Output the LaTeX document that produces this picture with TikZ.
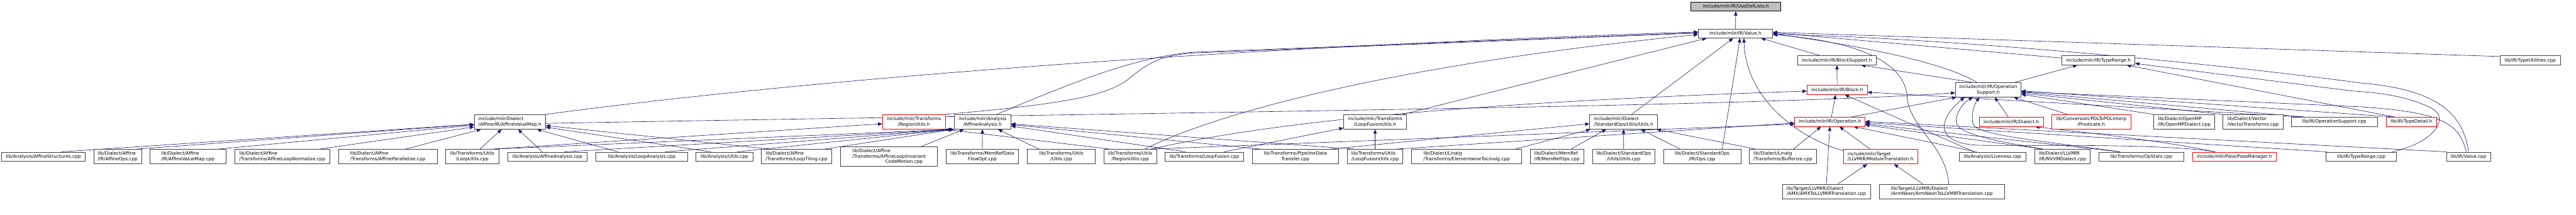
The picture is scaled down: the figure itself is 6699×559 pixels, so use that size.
\documentclass[tikz,border=0pt]{standalone}
\usepackage{fontspec}
\setmainfont{DejaVu Sans}
\usetikzlibrary{arrows.meta, backgrounds}
\definecolor{dxEdge}{HTML}{191970}
\definecolor{dxLine}{HTML}{404040}
\definecolor{dxCut}{HTML}{FF0000}
\definecolor{dxRoot}{HTML}{BFBFBF}
\tikzset{
  file/.style={
    rectangle, draw=dxLine, line width=1pt,
    fill=white, text=black,
    inner xsep=4pt, inner ysep=2pt,
    align=center,
    font=\fontsize{12}{14}\selectfont
  },
  one/.style={minimum height=24pt},
  two/.style={minimum height=38pt},
  lft/.style={align=left},
  cut/.style={draw=dxCut},
  rootfile/.style={file, one, fill=dxRoot, draw=black},
  inc/.style={
    -{Triangle[length=11pt, width=9pt]},
    dxEdge, line width=1pt
  }
}

\begin{document}
\begin{tikzpicture}[x=1pt, y=-1pt]
  \useasboundingbox (0,0) rectangle (6699,559);

  % headers at the top
  \node[rootfile, minimum width=234pt] (usedef) at (4514,17) {include/mlir/IR/UseDefLists.h};
  \node[file, one, minimum width=194pt] (value) at (4513,87) {include/mlir/IR/Value.h};
  \node[file, one, minimum width=204pt] (blksup) at (4777,157) {include/mlir/IR/BlockSupport.h};
  \node[file, one, minimum width=190pt] (tyrange) at (5457,157) {include/mlir/IR/TypeRange.h};
  \node[file, one, minimum width=156pt] (tyutil) at (6580,157) {lib/IR/TypeUtilities.cpp};
  \node[file, one, cut, minimum width=157pt] (block) at (4777.5,234) {include/mlir/IR/Block.h};
  \node[file, two, minimum width=171pt] (opsup) at (5170.5,233.5) {include/mlir/IR/Operation\\Support.h};

  % middle row
  \node[file, two, lft, minimum width=186pt] (avmh) at (1326,317) {include/mlir/Dialect\\/Affine/IR/AffineValueMap.h};
  \node[file, two, cut, minimum width=163pt] (regutilh) at (2376.5,317) {include/mlir/Transforms\\/RegionUtils.h};
  \node[file, two, minimum width=148pt] (aah) at (2555,317) {include/mlir/Analysis\\/AffineAnalysis.h};
  \node[file, two, minimum width=164pt] (lfuh) at (3576,317) {include/mlir/Transforms\\/LoopFusionUtils.h};
  \node[file, two, lft, minimum width=176pt] (stdutilh) at (4222,317) {include/mlir/Dialect\\/StandardOps/Utils/Utils.h};
  \node[file, one, cut, minimum width=183pt] (oph) at (4758.5,317) {include/mlir/IR/Operation.h};
  \node[file, one, cut, minimum width=167pt] (dialh) at (5230.5,317) {include/mlir/IR/Dialect.h};
  \node[file, two, cut, minimum width=205pt] (predh) at (5438.5,317) {lib/Conversion/PDLToPDLInterp\\/Predicate.h};
  \node[file, two, lft, minimum width=158pt] (ompcpp) at (5680,317) {lib/Dialect/OpenMP\\/IR/OpenMPDialect.cpp};
  \node[file, two, lft, minimum width=156pt] (vectcpp) at (5859,317) {lib/Dialect/Vector\\/VectorTransforms.cpp};
  \node[file, one, minimum width=223pt] (opsupcpp) at (6070.5,317) {lib/IR/OperationSupport.cpp};
  \node[file, one, cut, minimum width=132pt] (tydet) at (6271,317) {lib/IR/TypeDetail.h};

  % bottom row
  \node[file, one, minimum width=218pt] (astruct) at (113,407.5) {lib/Analysis/AffineStructures.cpp};
  \node[file, two, lft, minimum width=124pt] (aops) at (306,407.5) {lib/Dialect/Affine\\/IR/AffineOps.cpp};
  \node[file, two, lft, minimum width=197pt] (avmcpp) at (488.5,407.5) {lib/Dialect/Affine\\/IR/AffineValueMap.cpp};
  \node[file, two, lft, minimum width=248pt] (alnorm) at (734,407.5) {lib/Dialect/Affine\\/Transforms/AffineLoopNormalize.cpp};
  \node[file, two, lft, minimum width=257pt] (apar) at (1008.5,407.5) {lib/Dialect/Affine\\/Transforms/AffineParallelize.cpp};
  \node[file, two, minimum width=138pt] (lutils) at (1228,407.5) {lib/Transforms/Utils\\/LoopUtils.cpp};
  \node[file, one, minimum width=207pt] (aacpp) at (1423.5,407.5) {lib/Analysis/AffineAnalysis.cpp};
  \node[file, one, minimum width=238pt] (lacpp) at (1669,407.5) {lib/Analysis/LoopAnalysis.cpp};
  \node[file, one, minimum width=148pt] (autils) at (1884,407.5) {lib/Analysis/Utils.cpp};
  \node[file, two, lft, minimum width=183pt] (ltile) at (2071.5,407.5) {lib/Dialect/Affine\\/Transforms/LoopTiling.cpp};
  \node[file, lft, minimum width=252pt, minimum height=51pt] (alicm) at (2312,407.5) {lib/Dialect/Affine\\/Transforms/AffineLoopInvariant\\\hspace*{86pt}CodeMotion.cpp};
  \node[file, two, minimum width=189pt] (mrdfo) at (2554.5,407.5) {lib/Transforms/MemRefData\\FlowOpt.cpp};
  \node[file, two, minimum width=176pt] (tutils) at (2760,407.5) {lib/Transforms/Utils\\/Utils.cpp};
  \node[file, two, minimum width=138pt] (rucpp) at (2939,407.5) {lib/Transforms/Utils\\/RegionUtils.cpp};
  \node[file, one, minimum width=204pt] (lfus) at (3132,407.5) {lib/Transforms/LoopFusion.cpp};
  \node[file, two, minimum width=225pt] (pdt) at (3368.5,407.5) {lib/Transforms/PipelineData\\Transfer.cpp};
  \node[file, two, lft, minimum width=144pt] (lfucpp) at (3576,407.5) {lib/Transforms/Utils\\/LoopFusionUtils.cpp};
  \node[file, two, lft, minimum width=286pt] (elem) at (3814,407.5) {lib/Dialect/Linalg\\/Transforms/ElementwiseToLinalg.cpp};
  \node[file, two, lft, minimum width=138pt] (mrops) at (4049,407.5) {lib/Dialect/MemRef\\/IR/MemRefOps.cpp};
  \node[file, two, minimum width=163pt] (stdcpp) at (4222.5,407.5) {lib/Dialect/StandardOps\\/Utils/Utils.cpp};
  \node[file, two, minimum width=201pt] (opscpp) at (4426.5,407.5) {lib/Dialect/StandardOps\\/IR/Ops.cpp};
  \node[file, two, lft, minimum width=175pt] (bufz) at (4636.5,407.5) {lib/Dialect/Linalg\\/Transforms/Bufferize.cpp};
  \node[file, two, lft, cut, minimum width=193pt] (modtr) at (4890.5,407.5) {include/mlir/Target\\/LLVMIR/ModuleTranslation.h};
  \node[file, one, minimum width=173pt] (live) at (5181.5,407.5) {lib/Analysis/Liveness.cpp};
  \node[file, two, lft, minimum width=145pt] (nvvm) at (5363.5,407.5) {lib/Dialect/LLVMIR\\/IR/NVVMDialect.cpp};
  \node[file, one, minimum width=221pt] (opstat) at (5568.5,407.5) {lib/Transforms/OpStats.cpp};
  \node[file, one, cut, minimum width=217pt] (passmgr) at (5810.5,407.5) {include/mlir/Pass/PassManager.h};
  \node[file, one, minimum width=183pt] (trcpp) at (6140.5,407.5) {lib/IR/TypeRange.cpp};
  \node[file, one, minimum width=115pt] (valcpp) at (6419.5,407.5) {lib/IR/Value.cpp};
  \node[file, two, lft, minimum width=229pt] (amx) at (4749.5,498) {lib/Target/LLVMIR/Dialect\\/AMX/AMXToLLVMIRTranslation.cpp};
  \node[file, two, lft, minimum width=326pt] (neon) at (5050,498) {lib/Target/LLVMIR/Dialect\\/ArmNeon/ArmNeonToLLVMIRTranslation.cpp};

  \begin{scope}[on background layer]
    \fill[white] (0,0) rectangle (6699,559);

    % Value.h and the headers above it
    \draw[inc] (value) -- (usedef);
    \draw[inc] ([xshift=-44pt]blksup.north) -- ([xshift=67pt]value.south);
    \draw[inc] (block) -- (blksup);
    \draw[inc] ([xshift=-43pt]opsup.north) -- ([xshift=63pt]blksup.south);
    \draw[inc] ([xshift=70pt]opsup.north) -- ([xshift=-55pt]tyrange.south);
    \draw[inc] ([yshift=6pt]tyrange.west) -- ([yshift=2pt]value.east);
    \draw[inc] ([yshift=10pt]tyutil.west) -- ([yshift=3pt]value.east);
    \draw[inc] ([xshift=-30pt]opsup.north) .. controls (5060,165) and (4850,120) .. ([yshift=-1pt]value.east);
    \draw[inc] ([xshift=4pt]oph.north) -- ([xshift=-4pt]block.south);
    \draw[inc] ([xshift=55pt]oph.north) -- ([xshift=3pt]opsup.south west);

    % into OperationSupport.h
    \draw[inc] ([xshift=-8pt]dialh.north) -- ([xshift=17pt]opsup.south);
    \draw[inc] ([xshift=-62pt]predh.north) -- ([xshift=66pt]opsup.south);
    \draw[inc] (ompcpp.north west) -- ([yshift=-12pt]opsup.east);
    \draw[inc] (vectcpp.north west) -- ([yshift=-9pt]opsup.east);
    \draw[inc] ([xshift=-78pt]opsupcpp.north) -- ([yshift=-6pt]opsup.east);
    \draw[inc] ([xshift=-43pt]tydet.north) -- ([yshift=-3pt]opsup.east);
    \draw[inc] ([xshift=-78pt]opsupcpp.north) -- ([yshift=-6pt]block.east);
    \draw[inc] ([xshift=-43pt]tydet.north) -- ([xshift=73pt]tyrange.south);
    \draw[inc] ([yshift=-4pt]avmh.east) .. controls (3000,292) and (4500,280) .. ([yshift=-8pt]opsup.west);

    % the far right files
    \draw[inc] ([xshift=80pt]trcpp.north) .. controls (6330,372) and (6375,305) .. (6320,280)
      .. controls (6260,250) and (6180,240) .. (6120,237) -- ([yshift=-8pt]tyrange.east);
    \draw[inc] (valcpp.north) .. controls (6405,290) and (6330,232) .. (6140,216)
      .. controls (5800,170) and (5100,100) .. ([yshift=-2pt]value.east);
    \draw[inc] ([xshift=-6pt]valcpp.north) .. controls (6395,320) and (6350,292) .. (6140,278)
      -- ([yshift=-5pt]opsup.east);
    \draw[inc] ([xshift=-50pt]passmgr.north) .. controls (5620,372) and (5250,380) .. (5150,378)
      .. controls (5040,375) and (5030,320) .. ([xshift=-62pt]opsup.south);
    \draw[inc] ([xshift=-50pt]nvvm.north) .. controls (5200,368) and (5085,350) .. (5087,315)
      .. controls (5089,285) and (5110,265) .. ([xshift=-40pt]opsup.south);
    \draw[inc] ([xshift=-55pt]opstat.north) .. controls (5300,365) and (5135,352) .. (5130,320)
      .. controls (5127,290) and (5135,270) .. ([xshift=-23pt]opsup.south);
    \draw[inc] ([xshift=-50pt]passmgr.north) .. controls (5620,365) and (5420,345) .. ([xshift=62pt]dialh.south);

    % into Operation.h and Block.h
    \draw[inc] ([xshift=-27pt]modtr.north) -- ([xshift=25pt]oph.south);
    \draw[inc] (amx.north) -- (oph.south);
    \draw[inc] ([xshift=27pt]bufz.north) -- ([xshift=-23pt]oph.south);
    \draw[inc] ([xshift=30pt]amx.north) -- ([xshift=-35pt]modtr.south);
    \draw[inc] ([xshift=-50pt]neon.north) -- ([xshift=35pt]modtr.south);
    \draw[inc] ([yshift=-4pt]modtr.north west) .. controls (4680,360) and (4540,260) .. ([xshift=22pt]value.south);
    \draw[inc] ([xshift=18pt]neon.north) .. controls (5060,380) and (4975,340) .. (4960,260)
      .. controls (4960,150) and (4800,105) .. ([yshift=-3pt]value.east);
    \draw[inc] ([xshift=-48pt]live.north) -- ([xshift=20pt]block.south);
    \draw[inc] ([xshift=-41pt]live.north) -- ([xshift=62pt]oph.south);
    \draw[inc] ([xshift=-50pt]nvvm.north) -- ([yshift=-8pt]oph.east);
    \draw[inc] ([xshift=-55pt]opstat.north) -- ([yshift=-5pt]oph.east);
    \draw[inc] ([xshift=-90pt]trcpp.north) -- ([yshift=-2pt]oph.east);
    \draw[inc] (valcpp.north west) -- ([yshift=1pt]oph.east);

    % StandardOps/Utils/Utils.h
    \draw[inc] ([xshift=90pt]pdt.north) -- ([yshift=-5pt]stdutilh.west);
    \draw[inc] ([xshift=126pt]elem.north) -- ([xshift=-86pt]stdutilh.south);
    \draw[inc] ([xshift=36pt]mrops.north) -- ([xshift=-45pt]stdutilh.south);
    \draw[inc] (stdcpp.north) -- (stdutilh.south);
    \draw[inc] ([xshift=-57pt]opscpp.north) -- ([xshift=45pt]stdutilh.south);
    \draw[inc] ([xshift=-70pt]bufz.north) -- ([xshift=86pt]stdutilh.south);
    \draw[inc] ([xshift=21pt]stdutilh.north) -- ([xshift=-6pt]value.south);
    \draw[inc] ([xshift=52pt]opscpp.north) -- ([xshift=12pt]value.south);

    % LoopFusionUtils.h and RegionUtils
    \draw[inc] (lfucpp.north) -- (lfuh.south);
    \draw[inc] ([xshift=51pt]lfus.north) -- ([yshift=-16pt]lfuh.west);
    \draw[inc] ([xshift=72pt]lfuh.north) -- ([xshift=-75pt]value.south);
    \draw[inc] ([xshift=54pt]lfucpp.north) -- ([yshift=-3pt]oph.west);
    \draw[inc] ([xshift=53pt]rucpp.north) -- ([yshift=-6pt]oph.west);
    \draw[inc] ([xshift=53pt]rucpp.north) .. controls (3250,330) and (3700,270) .. ([yshift=-3pt]block.west);
    \draw[inc] ([xshift=38pt]rucpp.north) .. controls (3150,300) and (3600,170) .. ([yshift=-3pt]value.west);
    \draw[inc] ([xshift=-52pt]rucpp.north) -- (regutilh.south east);
    \draw[inc] (regutilh.north east) .. controls (2800,268) and (2880,245) .. (2933,207)
      .. controls (2990,160) and (3020,145) .. (3100,138) -- ([yshift=1pt]value.west);
    \draw[inc] ([xshift=37pt]aah.north) .. controls (2800,210) and (2950,150) .. (3100,136) -- ([yshift=2pt]value.west);
    \draw[inc] (avmh.north east) .. controls (2000,220) and (3000,130) .. ([yshift=4pt]value.west);

    % AffineAnalysis.h
    \foreach \c/\dx in {lutils/52, aacpp/44, lacpp/61, autils/33, ltile/72}
      \draw[inc] ([xshift=\dx pt]\c.north) -- (aah.south west);
    \foreach \c/\dx in {alicm/83, mrdfo/0, tutils/-58, lfucpp/-53, pdt/-88, lfus/-49}
      \draw[inc] ([xshift=\dx pt]\c.north) -- (aah);
    \draw[inc] ([xshift=52pt]lutils.north) -- ([yshift=-5pt]regutilh.west);

    % AffineValueMap.h
    \foreach \c/\dx in {astruct/47, aops/47, avmcpp/78, alnorm/96, apar/45,
                        lutils/20, aacpp/-13, lacpp/-62, autils/-36, ltile/-68}
      \draw[inc] ([xshift=\dx pt]\c.north) -- (avmh);
  \end{scope}
\end{tikzpicture}
\end{document}
